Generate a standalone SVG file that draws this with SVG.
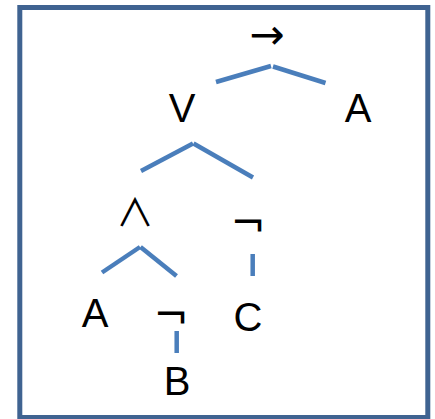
<svg xmlns="http://www.w3.org/2000/svg" width="435" height="419" viewBox="0 0 435 419">
<style>
.t{font-family:"Liberation Sans",Arial,sans-serif;font-size:40px;fill:#000;text-anchor:middle}
.s{font-family:"DejaVu Sans",sans-serif;font-size:42px;fill:#000;text-anchor:middle}
.e{stroke:#4A7EBB;stroke-width:4.5;fill:none}
</style>
<rect x="0" y="0" width="435" height="419" fill="#fff"/>
<rect x="19.8" y="7.5" width="408" height="410" fill="#fff" stroke="#3F6391" stroke-width="5"/>
<g id="connectors">
<line class="e" x1="216" y1="82" x2="271" y2="66"/>
<line class="e" x1="273" y1="66.5" x2="325.5" y2="83"/>
<line class="e" x1="141" y1="171" x2="193" y2="143.5"/>
<line class="e" x1="193.5" y1="143.5" x2="253" y2="177.5"/>
<line class="e" x1="102" y1="272.5" x2="140" y2="247"/>
<line class="e" x1="140.5" y1="247" x2="176.5" y2="276"/>
<line class="e" x1="252.7" y1="254" x2="252.7" y2="276"/>
<line class="e" x1="176.7" y1="331" x2="176.7" y2="353"/>
</g>
<g id="n-imp"><text class="s" x="267" y="49">→</text></g>
<g id="n-or"><text class="t" x="182" y="122">V</text></g>
<g id="n-a1"><text class="t" x="358" y="122">A</text></g>
<g id="n-and"><text x="135" y="226" style="font-family:'Noto Sans CJK SC',sans-serif;font-size:38px;font-weight:400;text-anchor:middle">∧</text></g>
<g id="n-not1"><text class="s" x="248" y="237">¬</text></g>
<g id="n-a2"><text class="t" x="95" y="327">A</text></g>
<g id="n-not2"><text class="s" x="171" y="329">¬</text></g>
<g id="n-c"><text class="t" x="248" y="331">C</text></g>
<g id="n-b"><text class="t" x="177" y="395">B</text></g>
</svg>
